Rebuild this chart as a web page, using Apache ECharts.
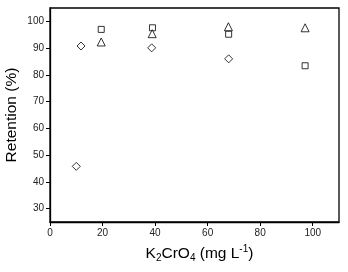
<!DOCTYPE html>
<html><head><meta charset="utf-8">
<script src="https://cdn.jsdelivr.net/npm/echarts@6/dist/echarts.min.js"></script>
<style>html,body{margin:0;padding:0;background:#fff}#c{width:348px;height:272px}</style>
</head><body><div id="c"></div>
<script>
const diamondX = [10, 11.8, 38.7, 68];
const diamondY = [45.8, 90.8, 90.1, 86.0];
const squareX = [19.5, 39, 68, 97.1];
const squareY = [97.0, 97.6, 95.2, 83.4];
const triangleX = [19.5, 38.9, 67.9, 97.1];
const triangleY = [92.3, 95.4, 98.0, 97.6];
const xTicks = [0, 20, 40, 60, 80, 100];
const yTicks = [30, 40, 50, 60, 70, 80, 90, 100];

const zip = (xs, ys) => xs.map((x, i) => [x, ys[i]]);
const font = '"Liberation Sans", Arial, sans-serif';
const chart = echarts.init(document.getElementById('c'));
const hollow = {color: '#fff', borderColor: '#000', borderWidth: 1};
chart.setOption({
  animation: false,
  grid: {left: 50, right: 9, top: 8, bottom: 50, show: true, borderColor: '#000', borderWidth: 1.3,
         containLabel: false, outerBoundsMode: 'none'},
  xAxis: {
    type: 'value', min: 0, max: 110,
    axisLine: {show: true, lineStyle: {color: '#000', width: 1.3}},
    axisTick: {show: true, length: 4, lineStyle: {color: '#000'}, customValues: xTicks},
    axisLabel: {fontSize: 10, color: '#222', fontFamily: font, margin: 6, customValues: xTicks},
    splitLine: {show: false},
    name: '{n|K}{sub|2}{n|CrO}{sub|4}{n| (mg L}{sup|-1}{n|)}',
    nameLocation: 'middle', nameGap: 22, nameMoveOverlap: false,
    nameTextStyle: {
      fontFamily: font, padding: [0, 0, 0, 10],
      rich: {
        n: {fontSize: 15.5, color: '#000', fontFamily: font, lineHeight: 19, verticalAlign: 'middle'},
        sub: {fontSize: 10, color: '#000', fontFamily: font, lineHeight: 10, verticalAlign: 'bottom'},
        sup: {fontSize: 10, color: '#000', fontFamily: font, lineHeight: 10, verticalAlign: 'top'}
      }
    }
  },
  yAxis: {
    type: 'value', min: 25, max: 105,
    axisLine: {show: true, lineStyle: {color: '#000', width: 1.3}},
    axisTick: {show: true, length: 4, lineStyle: {color: '#000'}, customValues: yTicks},
    axisLabel: {fontSize: 10, color: '#222', fontFamily: font, margin: 6, customValues: yTicks},
    splitLine: {show: false},
    name: 'Retention (%)', nameLocation: 'middle', nameGap: 30, nameMoveOverlap: false,
    nameTextStyle: {fontSize: 15.5, color: '#000', fontFamily: font}
  },
  series: [
    {type: 'scatter', symbol: 'diamond', symbolSize: 8, itemStyle: hollow, data: zip(diamondX, diamondY)},
    {type: 'scatter', symbol: 'rect', symbolSize: 6, itemStyle: hollow, data: zip(squareX, squareY)},
    {type: 'scatter', symbol: 'triangle', symbolSize: 8, itemStyle: hollow, data: zip(triangleX, triangleY)}
  ]
});
</script></body></html>
